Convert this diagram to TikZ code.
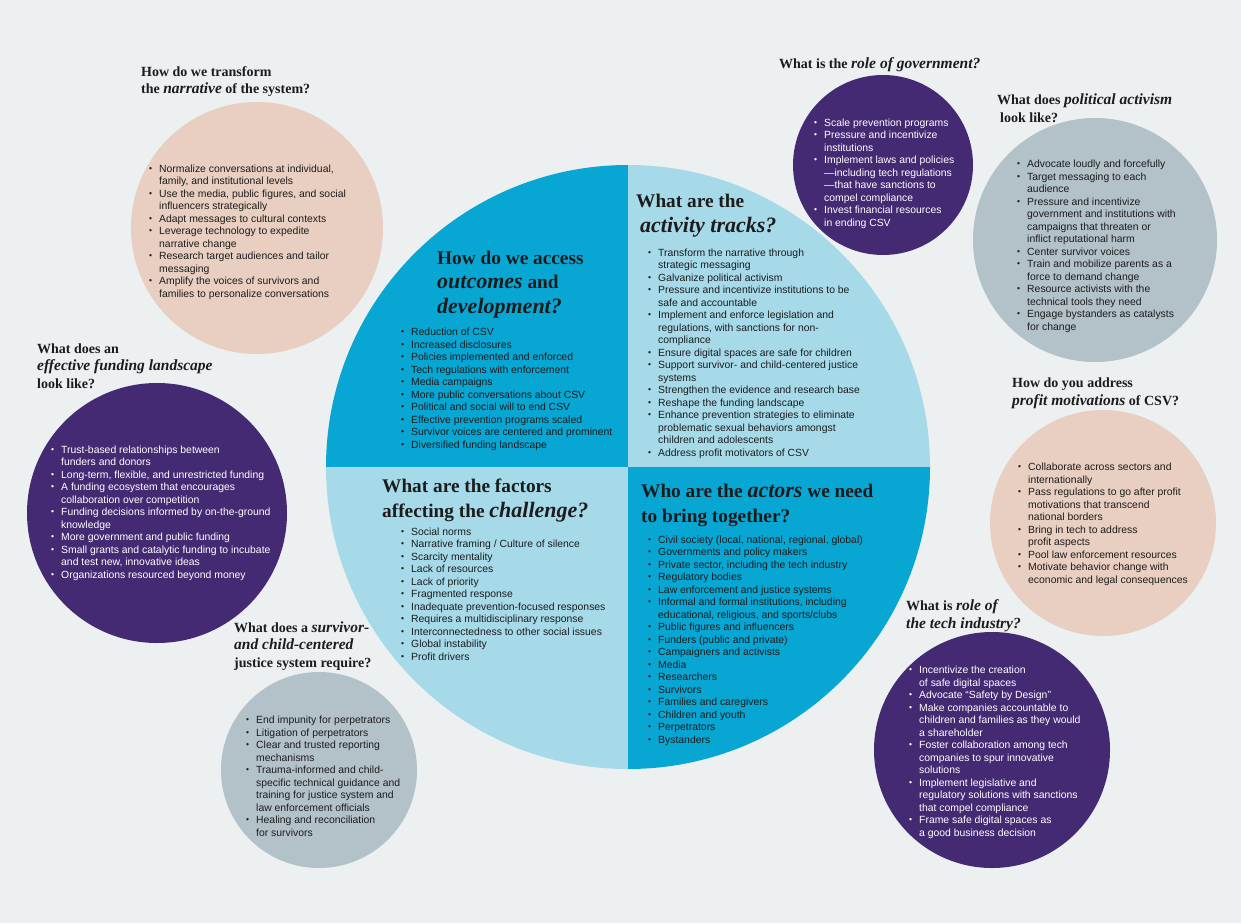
\documentclass[tikz,border=0pt]{standalone}
\usepackage{fontspec}
\setmainfont{Liberation Sans}
\newfontfamily\headfont{Liberation Serif}
\usetikzlibrary{positioning}

\definecolor{bgcol}{RGB}{236,240,241}
\definecolor{deepblue}{RGB}{8,166,211}
\definecolor{paleblue}{RGB}{166,218,233}
\definecolor{plum}{RGB}{67,42,114}
\definecolor{peach}{RGB}{232,207,193}
\definecolor{slate}{RGB}{179,193,200}
\definecolor{ink}{RGB}{28,28,28}

\newcommand{\bi}{\makebox[10pt][l]{\raisebox{0.1ex}{\fontsize{8.5}{8.5}\selectfont\textbullet}}}
\newcommand{\ct}{\hspace*{10pt}}
\newcommand{\hb}[1]{{\fontsize{22}{24.5}\selectfont\bfseries\itshape #1}}
\newcommand{\hs}[1]{{\fontsize{15.5}{17.5}\selectfont\bfseries\itshape #1}}

\begin{document}
\begin{tikzpicture}[x=1pt, y=-1pt,
    bigq/.style={anchor=base west, align=left, inner sep=0pt, text=ink, font=\headfont\bfseries\fontsize{19.3}{24.5}\selectfont},
    smallq/.style={anchor=base west, align=left, inner sep=0pt, text=ink, font=\headfont\bfseries\fontsize{14}{17.5}\selectfont},
    items/.style={anchor=base west, align=left, inner sep=0pt, text=ink, font=\fontsize{10.4}{12.5}\selectfont},
    itemsw/.style={items, text=white}
]
    \useasboundingbox (0,0) rectangle (1241,923);
    \fill[bgcol] (0,0) rectangle (1241,923);

    % centre circle
    \begin{scope}
        \clip (628,467) circle (302pt);
        \fill[deepblue] (320,160) rectangle (628,467);
        \fill[paleblue] (628,160) rectangle (936,467);
        \fill[paleblue] (320,467) rectangle (628,775);
        \fill[deepblue] (628,467) rectangle (936,775);
    \end{scope}

    % outer circles
    \fill[peach] (257,228) circle (126pt);
    \fill[plum]  (157,513) circle (130pt);
    \fill[slate] (319,770) circle (98pt);
    \fill[plum]  (883,165) circle (90pt);
    \fill[slate] (1095,240) circle (122pt);
    \fill[peach] (1103,523) circle (113pt);
    \fill[plum]  (992,750) circle (118pt);

    % quadrants (nodes sit on the baseline of their last line)
    \node[bigq] (outq) at (437,313) {How do we access\\\hb{outcomes} and\\\hb{development?}};
    \node[items] (outl) at (401,448) {\bi Reduction of CSV\\\bi Increased disclosures\\\bi Policies implemented and enforced\\\bi Tech regulations with enforcement\\\bi Media campaigns\\\bi More public conversations about CSV\\\bi Political and social will to end CSV\\\bi Effective prevention programs scaled\\\bi Survivor voices are centered and prominent\\\bi Diversified funding landscape};

    \node[bigq] (actq) at (636,232) {What are the\\\hspace*{4pt}\hb{activity tracks?}};
    \node[items] (actl) at (648,456) {\bi Transform the narrative through\\\ct strategic messaging\\\bi Galvanize political activism\\\bi Pressure and incentivize institutions to be\\\ct safe and accountable\\\bi Implement and enforce legislation and\\\ct regulations, with sanctions for non-\\\ct compliance\\\bi Ensure digital spaces are safe for children\\\bi Support survivor- and child-centered justice\\\ct systems\\\bi Strengthen the evidence and research base\\\bi Reshape the funding landscape\\\bi Enhance prevention strategies to eliminate\\\ct problematic sexual behaviors amongst\\\ct children and adolescents\\\bi Address profit motivators of CSV};

    \node[bigq] (facq) at (382,517) {What are the factors\\affecting the \hb{challenge?}};
    \node[items] (facl) at (401,660) {\bi Social norms\\\bi Narrative framing / Culture of silence\\\bi Scarcity mentality\\\bi Lack of resources\\\bi Lack of priority\\\bi Fragmented response\\\bi Inadequate prevention-focused responses\\\bi Requires a multidisciplinary response\\\bi Interconnectedness to other social issues\\\bi Global instability\\\bi Profit drivers};

    \node[bigq] (actorq) at (641,522) {Who are the \hb{actors} we need\\to bring together?};
    \node[items] (actorl) at (648,743) {\bi Civil society (local, national, regional, global)\\\bi Governments and policy makers\\\bi Private sector, including the tech industry\\\bi Regulatory bodies\\\bi Law enforcement and justice systems\\\bi Informal and formal institutions, including\\\ct educational, religious, and sports/clubs\\\bi Public figures and influencers\\\bi Funders (public and private)\\\bi Campaigners and activists\\\bi Media\\\bi Researchers\\\bi Survivors\\\bi Families and caregivers\\\bi Children and youth\\\bi Perpetrators\\\bi Bystanders};

    % outer questions
    \node[smallq] (narq) at (141,94) {How do we transform\\the \hs{narrative} of the system?};
    \node[items] (narl) at (149,297) {\bi Normalize conversations at individual,\\\ct family, and institutional levels\\\bi Use the media, public figures, and social\\\ct influencers strategically\\\bi Adapt messages to cultural contexts\\\bi Leverage technology to expedite\\\ct narrative change\\\bi Research target audiences and tailor\\\ct messaging\\\bi Amplify the voices of survivors and\\\ct families to personalize conversations};

    \node[smallq] (fundq) at (37,388) {What does an\\\hs{effective funding landscape}\\look like?};
    \node[itemsw] (fundl) at (51,578) {\bi Trust-based relationships between\\\ct funders and donors\\\bi Long-term, flexible, and unrestricted funding\\\bi A funding ecosystem that encourages\\\ct collaboration over competition\\\bi Funding decisions informed by on-the-ground\\\ct knowledge\\\bi More government and public funding\\\bi Small grants and catalytic funding to incubate\\\ct and test new, innovative ideas\\\bi Organizations resourced beyond money};

    \node[smallq] (justq) at (234,667) {What does a \hs{survivor-}\\\hs{and child-centered}\\justice system require?};
    \node[items] (justl) at (246,836) {\bi End impunity for perpetrators\\\bi Litigation of perpetrators\\\bi Clear and trusted reporting\\\ct mechanisms\\\bi Trauma-informed and child-\\\ct specific technical guidance and\\\ct training for justice system and\\\ct law enforcement officials\\\bi Healing and reconciliation\\\ct for survivors};

    \node[smallq] (govq) at (779,69) {What is the \hs{role of government?}};
    \node[itemsw] (govl) at (814,226) {\bi Scale prevention programs\\\bi Pressure and incentivize\\\ct institutions\\\bi Implement laws and policies\\\ct ---including tech regulations\\\ct ---that have sanctions to\\\ct compel compliance\\\bi Invest financial resources\\\ct in ending CSV};

    \node[smallq] (polq) at (997,122) {What does \hs{political activism}\\\hspace*{3pt}look like?};
    \node[items] (poll) at (1017,330) {\bi Advocate loudly and forcefully\\\bi Target messaging to each\\\ct audience\\\bi Pressure and incentivize\\\ct government and institutions with\\\ct campaigns that threaten or\\\ct inflict reputational harm\\\bi Center survivor voices\\\bi Train and mobilize parents as a\\\ct force to demand change\\\bi Resource activists with the\\\ct technical tools they need\\\bi Engage bystanders as catalysts\\\ct for change};

    \node[smallq] (profq) at (1012,405) {How do you address\\\hs{profit motivations} of CSV?};
    \node[items] (profl) at (1018,583) {\bi Collaborate across sectors and\\\ct internationally\\\bi Pass regulations to go after profit\\\ct motivations that transcend\\\ct national borders\\\bi Bring in tech to address\\\ct profit aspects\\\bi Pool law enforcement resources\\\bi Motivate behavior change with\\\ct economic and legal consequences};

    \node[smallq] (techq) at (906,628) {What is \hs{role of}\\\hs{the tech industry?}};
    \node[itemsw] (techl) at (909,836) {\bi Incentivize the creation\\\ct of safe digital spaces\\\bi Advocate “Safety by Design”\\\bi Make companies accountable to\\\ct children and families as they would\\\ct a shareholder\\\bi Foster collaboration among tech\\\ct companies to spur innovative\\\ct solutions\\\bi Implement legislative and\\\ct regulatory solutions with sanctions\\\ct that compel compliance\\\bi Frame safe digital spaces as\\\ct a good business decision};
\end{tikzpicture}
\end{document}
